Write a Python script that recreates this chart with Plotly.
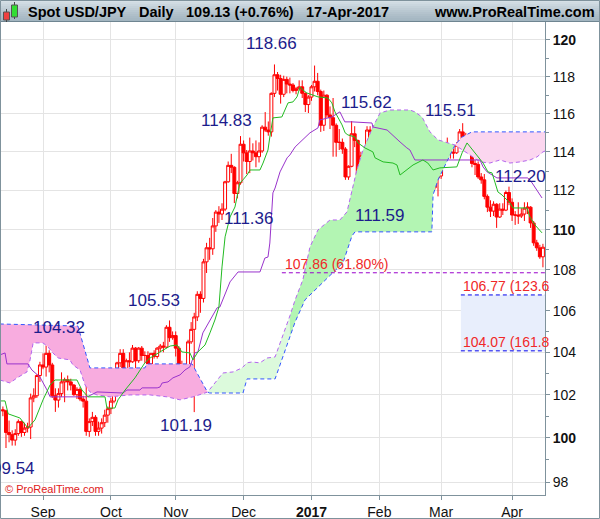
"""Spot USD/JPY daily candles with Ichimoku cloud and Fibonacci targets."""

import math

import pandas as pd
import plotly.graph_objects as go

FONT = "Liberation Sans, Arial, sans-serif"
NAVY = "#1c1c8c"
RED = "#ff0000"
FIB_RED = "#f02828"
AXIS = "#7f929c"
GRID = "#e4e4e4"

# trading days, 15-Aug-2016 .. 17-Apr-2017
dates = pd.bdate_range("2016-08-15", "2017-04-17")

open_ = [
    101.30, 101.25, 100.25, 100.15, 99.90, 100.20, 100.75, 100.25, 100.45, 100.50, 101.85, 101.95, 102.90,
    103.40, 103.30, 103.95, 103.40, 101.95, 101.75, 102.05, 102.60, 102.70, 102.60, 102.45, 102.00, 102.25,
    101.80, 101.70, 100.30, 100.75, 100.95, 100.30, 100.45, 100.70, 101.05,
    101.35, 101.70, 102.90, 103.50, 103.95, 102.95, 103.60, 103.55, 104.20, 103.60, 104.20, 103.85, 103.85,
    103.45, 103.95, 103.80, 104.20, 104.30, 104.25, 105.20, 104.70,
    104.80, 104.20, 103.10, 103.10, 103.10, 104.50, 105.10, 105.70, 106.80, 106.60, 108.40, 109.10, 109.05,
    110.20, 110.90, 110.80, 111.05, 112.45, 113.30, 113.20, 111.85, 112.40,
    114.40, 113.95, 113.50, 114.05, 113.95, 113.75, 114.05, 115.30, 115.15, 115.05, 117.10, 118.10, 117.90,
    117.05, 117.85, 117.60, 117.55, 117.25, 117.35, 117.45, 117.10, 116.50,
    116.90, 117.45, 117.75, 117.20, 115.40, 117.00, 115.95, 115.80, 115.40, 114.50, 114.50, 114.15, 112.70,
    113.25, 114.95, 114.60, 112.75, 113.80, 113.30, 115.15, 115.05, 113.80,
    112.75, 113.25, 112.80, 112.60, 111.75, 112.35, 111.95, 113.20, 113.20, 113.70, 114.30, 114.25, 113.25,
    112.85, 113.15, 113.65, 113.35, 112.65, 112.15, 112.65,
    112.75, 113.75, 114.40, 114.05, 113.95, 113.95, 114.35, 115.05, 114.80, 114.75, 114.80, 113.40, 113.35,
    112.70, 112.55, 111.70, 111.15, 110.95, 111.30, 110.65, 111.05, 111.00, 111.90,
    111.40, 110.75, 110.75, 110.70, 110.80, 111.10, 111.15, 110.35, 109.35, 109.10, 108.65,
]
high = [
    101.45, 101.30, 100.80, 100.35, 100.40, 100.85, 100.80, 100.70, 100.70, 102.05, 102.30, 102.95, 103.55,
    103.95, 104.32, 104.10, 103.50, 102.30, 102.30, 103.05, 102.80, 102.90, 102.75, 102.50, 102.35, 102.35,
    101.95, 102.80, 100.90, 101.20, 101.05, 100.75, 100.90, 101.30, 101.45,
    101.85, 102.95, 103.55, 104.15, 104.15, 103.70, 104.00, 104.35, 104.25, 104.25, 104.30, 104.05, 104.05,
    103.95, 104.10, 104.25, 104.40, 104.50, 105.30, 105.53, 105.00,
    105.00, 104.30, 103.60, 103.45, 104.60, 105.45, 105.90, 106.95, 106.95, 108.55, 109.35, 109.60, 110.60,
    111.00, 111.20, 111.35, 112.50, 113.50, 113.90, 113.25, 112.50, 114.83,
    114.60, 114.10, 114.75, 114.45, 114.60, 114.50, 115.40, 116.10, 115.60, 117.15, 118.66, 118.25, 118.10,
    118.05, 118.00, 117.95, 117.65, 117.45, 117.80, 117.80, 117.15, 117.00,
    117.55, 118.60, 118.20, 117.30, 117.25, 117.05, 116.40, 116.85, 115.50, 115.20, 114.70, 114.25, 113.30,
    115.62, 115.35, 114.65, 114.00, 113.95, 115.35, 115.35, 115.10, 113.95,
    113.40, 113.30, 113.25, 112.70, 112.50, 112.45, 113.25, 113.80, 114.00, 114.50, 114.95, 114.30, 113.50,
    113.30, 113.75, 113.75, 113.40, 112.75, 112.80, 112.90,
    113.85, 114.45, 114.75, 114.20, 114.15, 114.50, 115.20, 115.51, 115.00, 114.95, 115.00, 113.60, 113.50,
    112.90, 112.85, 111.80, 111.50, 111.45, 111.35, 111.35, 111.35, 112.00, 112.20,
    111.60, 110.95, 111.40, 111.10, 111.40, 111.40, 111.20, 110.45, 109.50, 109.25, 109.30,
]
low = [
    101.00, 99.54, 99.80, 99.65, 99.65, 100.10, 100.05, 100.10, 100.25, 99.95, 101.65, 101.85, 102.60,
    103.20, 102.85, 103.05, 101.85, 101.20, 101.40, 101.90, 101.65, 102.20, 102.20, 101.95, 101.80, 101.70,
    101.40, 100.10, 100.05, 100.55, 100.10, 100.10, 100.20, 100.50, 100.70,
    101.10, 101.60, 102.70, 103.30, 102.85, 102.90, 103.30, 103.50, 103.20, 103.50, 103.60, 103.50, 103.25,
    103.30, 103.70, 103.70, 104.00, 104.00, 104.20, 104.50, 104.60,
    103.80, 102.90, 102.55, 102.70, 103.00, 104.40, 101.19, 105.50, 105.90, 106.40, 107.85, 108.50, 108.75,
    109.90, 110.35, 110.50, 110.95, 112.40, 112.90, 111.36, 111.60, 112.30,
    113.50, 112.85, 112.90, 113.55, 113.20, 113.45, 113.95, 115.05, 114.85, 114.80, 116.90, 117.25, 116.55,
    116.90, 117.10, 117.10, 117.15, 117.05, 117.25, 116.85, 116.10, 116.05,
    116.70, 117.20, 117.00, 115.05, 115.10, 115.80, 115.20, 113.75, 113.75, 114.10, 113.90, 112.55, 112.55,
    113.20, 114.25, 112.55, 112.55, 112.90, 113.30, 114.45, 113.60, 112.10,
    112.10, 112.10, 112.10, 111.70, 111.59, 111.70, 111.80, 112.90, 113.10, 113.55, 114.10, 113.10, 112.60,
    112.80, 113.05, 113.05, 112.60, 111.95, 112.05, 111.70,
    112.60, 113.55, 113.90, 113.65, 113.65, 113.90, 114.30, 114.60, 114.65, 114.55, 113.20, 112.80, 112.60,
    112.35, 111.55, 110.90, 110.65, 110.70, 110.10, 110.60, 110.75, 110.95, 111.25,
    110.45, 110.25, 110.30, 110.60, 110.45, 110.80, 110.10, 109.20, 108.95, 108.55, 108.13,
]
close = [
    101.25, 100.25, 100.15, 99.90, 100.20, 100.75, 100.25, 100.45, 100.50, 101.85, 101.95, 102.90, 103.40,
    103.30, 103.95, 103.40, 101.95, 101.75, 102.05, 102.60, 102.70, 102.60, 102.45, 102.00, 102.25, 101.80,
    101.70, 100.30, 100.75, 100.95, 100.30, 100.45, 100.70, 101.05, 101.35,
    101.70, 102.90, 103.50, 103.95, 102.95, 103.60, 103.55, 104.20, 103.60, 104.20, 103.85, 103.85, 103.45,
    103.95, 103.80, 104.20, 104.30, 104.25, 105.20, 104.70, 104.80,
    104.20, 103.10, 103.10, 103.10, 104.50, 105.10, 105.70, 106.80, 106.60, 108.40, 109.10, 109.05, 110.20,
    110.90, 110.80, 111.05, 112.45, 113.30, 113.20, 111.85, 112.40, 114.40,
    113.95, 113.50, 114.05, 113.95, 113.75, 114.05, 115.30, 115.15, 115.05, 117.10, 118.10, 117.90, 117.05,
    117.85, 117.60, 117.55, 117.25, 117.35, 117.45, 117.10, 116.50, 116.90,
    117.45, 117.75, 117.20, 115.40, 117.00, 115.95, 115.80, 115.40, 114.50, 114.50, 114.15, 112.70, 113.25,
    114.95, 114.60, 112.75, 113.80, 113.30, 115.15, 115.05, 113.80, 112.75,
    113.25, 112.80, 112.60, 111.75, 112.35, 111.95, 113.20, 113.20, 113.70, 114.30, 114.25, 113.25, 112.85,
    113.15, 113.65, 113.35, 112.65, 112.15, 112.65, 112.75,
    113.75, 114.40, 114.05, 113.95, 113.95, 114.35, 115.05, 114.80, 114.75, 114.80, 113.40, 113.35, 112.70,
    112.55, 111.70, 111.15, 110.95, 111.30, 110.65, 111.05, 111.00, 111.90, 111.40,
    110.75, 110.75, 110.70, 110.80, 111.10, 111.15, 110.35, 109.35, 109.10, 108.65, 109.13,
]

# Ichimoku lines: (trading-day index, price)
TENKAN = [
    (-0.9, 101.71), (0.7, 101.71), (1.7, 101.11), (5.5, 100.92), (8.1, 100.46), (10.4, 100.83), (13.0, 101.76),
    (15.3, 102.46), (16.9, 102.69), (24.0, 102.69), (25.6, 102.22), (27.6, 101.90), (33.1, 101.90),
    (33.7, 101.38), (36.3, 101.38), (37.3, 101.76), (39.6, 102.22), (42.8, 102.79), (46.0, 103.50),
    (47.7, 103.73), (50.9, 104.02), (54.2, 104.30), (56.4, 104.35), (58.0, 104.02), (60.6, 103.97),
    (61.6, 103.64), (63.2, 104.02), (65.5, 104.35), (67.1, 104.93), (68.7, 105.55), (70.0, 106.18),
    (71.0, 108.15), (72.0, 109.65), (73.6, 110.65), (75.2, 111.16), (76.2, 111.88), (76.8, 112.39),
    (77.8, 112.55), (79.1, 112.80), (80.1, 113.06), (83.3, 113.06), (84.3, 113.42), (85.9, 114.10),
    (86.5, 114.78), (87.5, 115.79), (90.4, 115.84), (91.4, 116.21), (92.4, 116.59), (94.0, 116.64),
    (95.3, 116.91), (96.3, 117.44), (97.2, 117.28), (98.5, 117.12), (100.5, 117.01), (102.1, 116.91),
    (105.3, 116.85), (106.6, 116.59), (107.6, 116.11), (109.9, 115.42), (110.9, 115.00), (111.8, 114.89),
    (114.1, 114.78), (115.1, 114.47), (117.3, 114.21), (119.9, 114.00), (120.6, 113.69), (123.2, 113.48),
    (126.4, 113.42), (127.7, 113.32), (128.7, 112.80), (130.9, 113.06), (132.9, 113.32), (136.1, 113.58),
    (137.7, 113.42), (139.4, 113.06), (141.6, 113.17), (147.1, 113.22), (148.8, 113.95), (150.4, 114.47),
    (151.4, 114.26), (153.6, 113.84), (155.6, 113.42), (157.2, 112.96), (158.5, 112.91), (159.5, 112.40),
    (160.4, 111.93), (161.7, 111.78), (162.7, 111.62), (164.3, 111.37), (165.3, 111.11), (169.8, 111.11),
    (170.8, 110.65), (172.4, 110.25), (174.7, 109.85),
]
KIJUN = [
    (-0.9, 103.88), (0.7, 103.97), (1.3, 103.45), (8.1, 103.45), (9.4, 103.16), (12.0, 102.83), (14.3, 102.22),
    (15.3, 101.90), (27.3, 101.90), (30.5, 102.13), (38.9, 102.08), (40.2, 102.22), (44.4, 102.22),
    (45.1, 102.32), (50.0, 102.32), (50.9, 102.36), (51.6, 102.55), (53.5, 102.60), (55.1, 102.79),
    (57.4, 102.93), (59.0, 103.16), (60.6, 103.31), (62.2, 103.97), (63.2, 104.02), (64.8, 104.93),
    (67.1, 105.55), (69.4, 106.14), (70.3, 106.18), (73.6, 107.41), (76.2, 107.90), (83.3, 107.90),
    (84.9, 108.59), (85.9, 108.64), (86.5, 109.34), (87.5, 111.88), (88.2, 112.13), (89.8, 112.96),
    (92.1, 113.69), (93.0, 113.84), (94.7, 114.26), (97.2, 114.63), (99.5, 115.00), (102.1, 115.26),
    (102.7, 115.68), (106.6, 115.84), (109.2, 116.11), (110.8, 115.58), (113.1, 115.58), (119.6, 115.52),
    (119.9, 115.31), (124.5, 115.15), (126.1, 114.89), (128.7, 114.52), (130.9, 114.21), (131.9, 114.10),
    (133.5, 113.58), (154.6, 113.58), (155.6, 113.22), (156.9, 112.96), (160.1, 112.65), (170.1, 112.65),
    (171.5, 112.39), (173.1, 112.03), (174.7, 111.62),
]
SPAN_A = [
    (-1.0, 102.69), (2.3, 102.55), (4.6, 102.79), (7.8, 103.07), (8.8, 103.64), (9.8, 104.45), (13.0, 104.45),
    (14.6, 104.26), (16.2, 103.97), (17.9, 103.73), (21.7, 103.64), (22.7, 103.40), (25.0, 103.16),
    (26.6, 102.46), (28.2, 102.13), (30.5, 101.99), (34.7, 101.90), (41.2, 101.99), (47.7, 101.99),
    (53.2, 101.90), (57.4, 101.76), (61.6, 101.90), (66.3, 102.12), (69.4, 102.69), (71.3, 103.02),
    (74.6, 103.07), (77.5, 103.26), (79.1, 103.50), (80.7, 103.54), (83.3, 103.50), (85.6, 103.73),
    (88.2, 103.78), (91.4, 105.07), (93.0, 105.75), (94.7, 106.53), (97.2, 107.51), (99.5, 109.14),
    (102.1, 110.00), (106.0, 110.50), (109.2, 110.50), (111.5, 110.91), (113.4, 112.19), (114.7, 113.06),
    (116.7, 114.10), (119.9, 115.31), (122.2, 116.05), (125.4, 116.21), (131.9, 116.21), (133.5, 116.11),
    (135.8, 115.84), (138.4, 115.05), (141.0, 114.63), (143.9, 114.47), (146.5, 114.36), (151.4, 113.84),
    (154.6, 113.48), (157.8, 113.42), (161.1, 113.58), (164.3, 113.42), (167.6, 113.48), (170.8, 113.58),
    (173.1, 113.74), (175.0, 114.00), (176.5, 114.10),
]
SPAN_B = [
    (-1.0, 105.36), (24.3, 105.26), (28.2, 103.26), (46.0, 103.26), (46.7, 103.45), (61.3, 103.45),
    (66.3, 102.12), (67.0, 102.08), (77.8, 102.08), (79.1, 102.74), (88.2, 102.74), (91.4, 104.11),
    (93.0, 104.75), (94.7, 105.46), (97.9, 106.53), (101.1, 107.01), (104.4, 107.51), (107.6, 108.00),
    (110.2, 108.35), (113.1, 109.69), (114.1, 109.90), (139.0, 109.90), (139.4, 111.78), (141.0, 112.55),
    (143.9, 113.48), (146.5, 114.36), (148.8, 114.78), (152.0, 115.05), (176.5, 115.05),
]

# cloud pieces: (from, to, colour)
CLOUD_PARTS = [
    (-1.0, 66.3, "#f8acdf"),
    (66.3, 93.0, "#dcfadc"),
    (93.0, 146.5, "#b3f5b3"),
    (146.5, 176.5, "#fbd6ef"),
]

# swing high / low labels: (text, index, price, anchor)
SWING_LABELS = [
    ("118.66", 87.0, 119.83, "center"), ("114.83", 72.3, 115.63, "center"),
    ("111.36", 79.7, 110.60, "center"), ("115.62", 117.7, 116.59, "center"),
    ("115.51", 144.9, 116.16, "center"), ("111.59", 121.9, 110.71, "center"),
    ("105.53", 49.1, 106.48, "center"), ("104.32", 18.3, 105.17, "center"),
    ("101.19", 59.2, 100.55, "center"), ("99.54", 3.5, 98.59, "center"),
    ("112.20", 158.8, 112.70, "left"),
]

FIB_RETRACE = 107.86
FIB_EXT_HIGH = 106.77
FIB_EXT_LOW = 104.07

Y_TICKS = [98, 100, 102, 104, 106, 108, 110, 112, 114, 116, 118, 120]
Y_MINOR = [99, 101, 103, 105, 107, 109, 111, 113, 115, 117, 119]
MONTHS = ["Sep", "Oct", "Nov", "Dec", "<b>2017</b>", "Feb", "Mar", "Apr"]

idx = list(range(len(dates)))
month_start = pd.Series(idx, index=dates).groupby([dates.year, dates.month]).min().tolist()[1:]

X_RANGE = [-0.94, 175.67]
Y_RANGE = [math.log10(97.42), math.log10(120.99)]
PLOT_W, PLOT_H, TOP = 545, 473, 22


def segment(points, lo, hi):
    pts = [p for p in points if lo <= p[0] <= hi]
    return [p[0] for p in pts], [p[1] for p in pts]


def px(x):
    return x / PLOT_W


def py(y):
    return (TOP + PLOT_H - y) / PLOT_H


fig = go.Figure()

for lo, hi, color in CLOUD_PARTS:
    bx, by = segment(SPAN_B, lo, hi)
    ax_, ay = segment(SPAN_A, lo, hi)
    fig.add_trace(go.Scatter(x=bx, y=by, mode="lines", line=dict(width=0), hoverinfo="skip"))
    fig.add_trace(go.Scatter(x=ax_, y=ay, mode="lines", line=dict(width=0), fill="tonexty",
                             fillcolor=color, hoverinfo="skip"))

# Fibonacci extension zone
fig.add_trace(go.Scatter(
    x=[148.4, 176.5, 176.5, 148.4, 148.4],
    y=[FIB_EXT_HIGH, FIB_EXT_HIGH, FIB_EXT_LOW, FIB_EXT_LOW, FIB_EXT_HIGH],
    mode="lines", line=dict(width=0), fill="toself", fillcolor="#e8eefc", hoverinfo="skip",
))

fig.add_trace(go.Scatter(x=[p[0] for p in SPAN_B], y=[p[1] for p in SPAN_B], mode="lines",
                         line=dict(color="#3355ff", width=1, dash="4px,3px"), hoverinfo="skip"))
fig.add_trace(go.Scatter(x=[p[0] for p in SPAN_A], y=[p[1] for p in SPAN_A], mode="lines",
                         line=dict(color="#b366ee", width=1, dash="4px,3px"), hoverinfo="skip"))

fig.add_trace(go.Candlestick(
    x=idx, open=open_, high=high, low=low, close=close,
    increasing=dict(line=dict(color=RED, width=1), fillcolor="#ffffff"),
    decreasing=dict(line=dict(color=RED, width=1), fillcolor=RED),
    whiskerwidth=0, hoverinfo="skip",
))

fig.add_trace(go.Scatter(x=[p[0] for p in KIJUN], y=[p[1] for p in KIJUN], mode="lines",
                         line=dict(color="#9933cc", width=1), hoverinfo="skip"))
fig.add_trace(go.Scatter(x=[p[0] for p in TENKAN], y=[p[1] for p in TENKAN], mode="lines",
                         line=dict(color="#22bb22", width=1), hoverinfo="skip"))

fig.add_trace(go.Scatter(x=[90.4, 176.5], y=[FIB_RETRACE] * 2, mode="lines",
                         line=dict(color="#9900cc", width=1, dash="4px,3px"), hoverinfo="skip"))
for level in (FIB_EXT_HIGH, FIB_EXT_LOW):
    fig.add_trace(go.Scatter(x=[148.4, 176.5], y=[level] * 2, mode="lines",
                             line=dict(color="#0000ee", width=1, dash="4px,3px"), hoverinfo="skip"))

annotations = []
for text, i, p, anchor in SWING_LABELS:
    annotations.append(dict(x=i, y=math.log10(p), xref="x", yref="y", text=text, showarrow=False,
                            xanchor=anchor, yanchor="middle", font=dict(family=FONT, size=17, color=NAVY)))
for text, i, level in [("107.86 (61.80%)", 90.8, FIB_RETRACE), ("106.77 (123.6", 148.4, FIB_EXT_HIGH),
                       ("104.07 (161.8", 148.4, FIB_EXT_LOW)]:
    annotations.append(dict(x=i, y=math.log10(level), xref="x", yref="y", text=text, showarrow=False,
                            xanchor="left", yanchor="bottom", yshift=-1,
                            font=dict(family=FONT, size=14, color=FIB_RED)))

# title bar texts
for text, x in [("Spot USD/JPY", 26), ("Daily", 137), ("109.13 (+0.76%)", 184), ("17-Apr-2017", 304)]:
    annotations.append(dict(x=px(x), y=py(12), xref="paper", yref="paper", text=f"<b>{text}</b>",
                            showarrow=False, xanchor="left", yanchor="middle",
                            font=dict(family=FONT, size=14.5, color="#000")))
annotations.append(dict(x=px(597), y=py(12), xref="paper", yref="paper", text="<b>www.ProRealTime.com</b>",
                        showarrow=False, xanchor="right", yanchor="middle",
                        font=dict(family=FONT, size=14.5, color="#000")))
annotations.append(dict(x=px(3), y=py(489), xref="paper", yref="paper", text="© ProRealTime.com",
                        showarrow=False, xanchor="left", yanchor="middle",
                        font=dict(family=FONT, size=11, color="#e02020")))

shapes = []
# title bar gradient
bands = ["#d6e0e6", "#d0dbe2", "#cad6de", "#c4d1d9", "#bfccd5", "#b9c8d1", "#b4c3cd", "#afbfc9",
         "#aabbc6", "#a6b8c3", "#a2b5c0"]
for k, color in enumerate(bands):
    shapes.append(dict(type="rect", xref="paper", yref="paper", x0=px(0), x1=px(600),
                       y0=py(2 * k + 2), y1=py(2 * k), fillcolor=color, line=dict(width=0), layer="above"))
shapes.append(dict(type="line", xref="paper", yref="paper", x0=px(0), x1=px(600), y0=py(21.5), y1=py(21.5),
                   line=dict(color="#6f8591", width=1), layer="above"))
# logo
shapes += [
    dict(type="line", xref="paper", yref="paper", x0=px(6.5), x1=px(6.5), y0=py(22), y1=py(9),
         line=dict(color="#444", width=1), layer="above"),
    dict(type="rect", xref="paper", yref="paper", x0=px(3.5), x1=px(9.5), y0=py(20), y1=py(12),
         fillcolor="#f04040", line=dict(color="#555", width=1), layer="above"),
    dict(type="line", xref="paper", yref="paper", x0=px(14.5), x1=px(14.5), y0=py(19), y1=py(2),
         line=dict(color="#444", width=1), layer="above"),
    dict(type="rect", xref="paper", yref="paper", x0=px(11.5), x1=px(17.5), y0=py(17), y1=py(5),
         fillcolor="#33dd33", line=dict(color="#555", width=1), layer="above"),
]
# outer frame
shapes.append(dict(type="rect", xref="paper", yref="paper", x0=px(0.5), x1=px(599.5), y0=py(518.5),
                   y1=py(0.5), line=dict(color="#7f929c", width=1), layer="above"))

fig.update_layout(
    width=600, height=519,
    margin=dict(l=0, r=600 - PLOT_W, t=TOP, b=519 - TOP - PLOT_H, pad=0),
    paper_bgcolor="#ffffff", plot_bgcolor="#ffffff",
    showlegend=False, hovermode=False,
    boxgap=0.05, boxgroupgap=0.0,
    font=dict(family=FONT, size=14, color="#111"),
    annotations=annotations, shapes=shapes,
    xaxis=dict(
        range=X_RANGE, tickmode="array", tickvals=month_start, ticktext=MONTHS,
        showgrid=True, gridcolor=GRID, gridwidth=1, zeroline=False,
        ticks="outside", ticklen=4, tickcolor=AXIS, showline=True, linecolor=AXIS, linewidth=1,
        tickfont=dict(family=FONT, size=14, color="#111"), rangeslider=dict(visible=False),
        fixedrange=True,
    ),
    yaxis=dict(
        type="log", range=Y_RANGE, side="right", tickmode="array", tickvals=Y_TICKS,
        ticktext=[f"<b>{v}</b>" if v % 10 == 0 else str(v) for v in Y_TICKS],
        showgrid=True, gridcolor=GRID, gridwidth=1, zeroline=False,
        ticks="outside", ticklen=4, tickcolor=AXIS, showline=True, linecolor=AXIS, linewidth=1,
        minor=dict(tickmode="array", tickvals=Y_MINOR, ticks="outside", ticklen=3, tickcolor=AXIS,
                   showgrid=False),
        tickfont=dict(family=FONT, size=14, color="#111"), fixedrange=True,
    ),
)

# the page's default 8px body margin would push the chart off its 600x519 frame
fig.write_html("out.html", config={"displayModeBar": False},
               post_script="document.body.style.margin='0';")
